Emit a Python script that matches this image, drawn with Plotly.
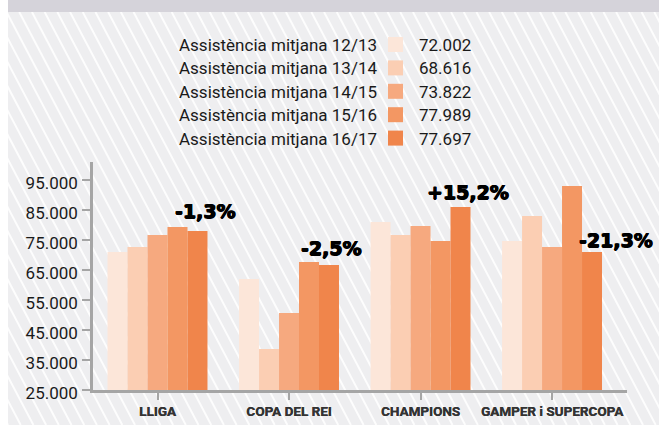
import plotly.graph_objects as go

# ---------------- data ----------------
categories = ["LLIGA", "COPA DEL REI", "CHAMPIONS", "GAMPER i SUPERCOPA"]
seasons = ["12/13", "13/14", "14/15", "15/16", "16/17"]
att_1213 = [71000, 62000, 81000, 74700]
att_1314 = [72700, 38700, 76700, 83000]
att_1415 = [76700, 50700, 79700, 72700]
att_1516 = [79300, 67700, 74700, 93000]
att_1617 = [78000, 66700, 86000, 71000]
season_avg = [72002, 68616, 73822, 77989, 77697]
change_labels = ["-1,3%", "-2,5%", "+15,2%", "-21,3%"]
y_ticks = [25000, 35000, 45000, 55000, 65000, 75000, 85000, 95000]

series = [att_1213, att_1314, att_1415, att_1516, att_1617]
colors = ["#fce6d9", "#fbceb3", "#f6a97f", "#f39763", "#f0854b"]

# ---------------- geometry helpers ----------------
W, H = 659, 425


def px(x):
    return x / W


def py(y):
    return 1 - y / H


fig = go.Figure()
for s, vals, c in zip(seasons, series, colors):
    fig.add_bar(x=categories, y=vals, name="Assistència mitjana " + s,
                marker=dict(color=c, line=dict(width=0)), hoverinfo="x+y+name")

# ---------------- background ----------------
shapes = []
shapes.append(dict(type="rect", xref="paper", yref="paper", x0=px(0), x1=px(W), y0=py(H), y1=py(0),
                   fillcolor="#eeeef0", line=dict(width=0), layer="below"))
slope = 1.9
step = 12.7
x0 = 8 - (H - 12) / slope
while x0 < W + 5:
    shapes.append(dict(type="line", xref="paper", yref="paper",
                       x0=px(x0), y0=py(12), x1=px(x0 + (H - 12) / slope), y1=py(H),
                       line=dict(color="rgba(255,255,255,0.85)", width=2), layer="below"))
    x0 += step
shapes.append(dict(type="rect", xref="paper", yref="paper", x0=px(0), x1=px(8), y0=py(H), y1=py(0),
                   fillcolor="white", line=dict(width=0), layer="below"))
shapes.append(dict(type="rect", xref="paper", yref="paper", x0=px(8), x1=px(W), y0=py(12), y1=py(0),
                   fillcolor="#d5d3da", line=dict(width=0), layer="below"))

# ---------------- custom legend ----------------
annotations = []
legend_font = dict(family="Roboto", size=17, color="#1a1a1a")
for k, (s, avg, c) in enumerate(zip(seasons, season_avg, colors)):
    yc = 45.0 + 23.4 * k
    annotations.append(dict(xref="paper", yref="paper", x=px(177), y=py(yc), xanchor="left", yanchor="middle",
                            text="Assistència mitjana " + s, showarrow=False, font=legend_font))
    annotations.append(dict(xref="paper", yref="paper", x=px(417), y=py(yc), xanchor="left", yanchor="middle",
                            text=f"{avg:,}".replace(",", "."), showarrow=False, font=legend_font))
    shapes.append(dict(type="rect", xref="paper", yref="paper", x0=px(388), x1=px(403),
                       y0=py(yc + 7), y1=py(yc - 8), fillcolor=c, line=dict(width=0)))

# ---------------- change labels ----------------
label_dx = [48, 42, 47, 64]
label_dy = [20, 17, 15, 12]
for cat, v, lab, dx, dy in zip(categories, att_1617, change_labels, label_dx, label_dy):
    annotations.append(dict(xref="x", yref="y", x=cat, y=v, xshift=dx, yshift=dy,
                            xanchor="center", yanchor="middle", text=lab, showarrow=False,
                            font=dict(family="DejaVu Sans", size=19, color="#000000", weight="bold",
                                      shadow="0.6px 0 0 #000, -0.6px 0 0 #000, 0 0.5px 0 #000")))

axis_col = "#a5a5a5"
fig.update_layout(
    width=W, height=H,
    margin=dict(l=0, r=0, t=0, b=0),
    paper_bgcolor="white", plot_bgcolor="rgba(0,0,0,0)",
    barmode="group", bargap=0.24, bargroupgap=0,
    showlegend=False, separators=",.",
    shapes=shapes, annotations=annotations,
    xaxis=dict(domain=[px(93), px(627)], range=[-0.4905, 3.570], showline=True, linecolor=axis_col,
               linewidth=2.5, ticks="outside", ticklen=7, tickwidth=2, tickcolor=axis_col,
               tickfont=dict(family="Roboto", size=13.5, color="#333333", weight="bold",
                             shadow="0.3px 0 0 #333"),
               showgrid=False, zeroline=False, automargin=False),
    yaxis=dict(domain=[py(390), py(162)], range=[25000, 101000], tickvals=y_ticks, tickformat=",d",
               showline=True, linecolor=axis_col, linewidth=2.5, ticks="outside", ticklen=8, tickwidth=2,
               tickcolor=axis_col, tickfont=dict(family="Roboto", size=17, color="#1a1a1a"),
               ticklabelshift=3, ticklabelstandoff=1,
               showgrid=False, zeroline=False, automargin=False),
)

fig.write_html("out.html", config={"displayModeBar": False},
               post_script="document.body.style.margin='0px';")
